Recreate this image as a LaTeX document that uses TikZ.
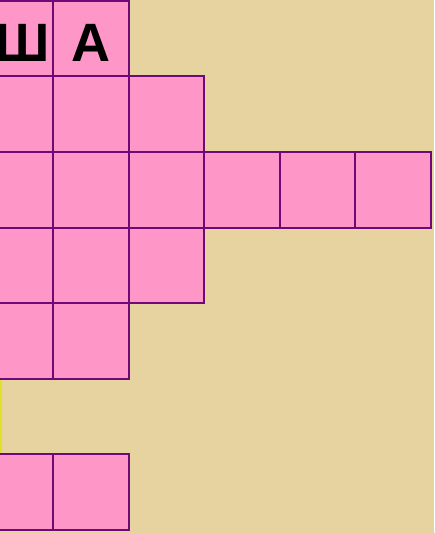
\documentclass[tikz,border=0pt]{standalone}
\usepackage{fontspec}
\setmainfont{Liberation Sans}
\definecolor{bgbeige}{RGB}{230,211,160}
\definecolor{cellpink}{RGB}{255,150,200}
\definecolor{cellline}{RGB}{110,10,120}
\definecolor{edgeyellow}{RGB}{225,225,40}
\tikzset{
  cell/.style={draw=cellline, fill=cellpink, line width=2pt, minimum width=75.6pt, minimum height=75.6pt, inner sep=0pt, outer sep=0pt},
  letter/.style={font=\fontsize{54}{54}\selectfont\bfseries, text=black, inner sep=0pt, anchor=base}
}
\begin{document}
\begin{tikzpicture}[x=1pt,y=-1pt]
\useasboundingbox (0,0) rectangle (434,533);
\fill[bgbeige] (0,0) rectangle (434,533);
\fill[edgeyellow] (0,379) rectangle (1.5,455);
\begin{scope}
\clip (0,0) rectangle (434,533);
% row 0
\node[cell] (r0c0) at (15.2,38.6) {};
\node[cell] (r0c1) at (90.8,38.6) {};
% row 1
\foreach \c in {0,1,2} \node[cell] (r1c\c) at (15.2+75.6*\c,114.2) {};
% row 2
\foreach \c in {0,...,5} \node[cell] (r2c\c) at (15.2+75.6*\c,189.8) {};
% row 3
\foreach \c in {0,1,2} \node[cell] (r3c\c) at (15.2+75.6*\c,265.4) {};
% row 4
\foreach \c in {0,1} \node[cell] (r4c\c) at (15.2+75.6*\c,341.0) {};
% row 6
\foreach \c in {0,1} \node[cell] (r6c\c) at (15.2+75.6*\c,492.2) {};
% letters
\node[letter] (sha) at (23,61) {Ш};
\node[letter] (a) at (90.6,61) {А};
\end{scope}
\end{tikzpicture}
\end{document}
